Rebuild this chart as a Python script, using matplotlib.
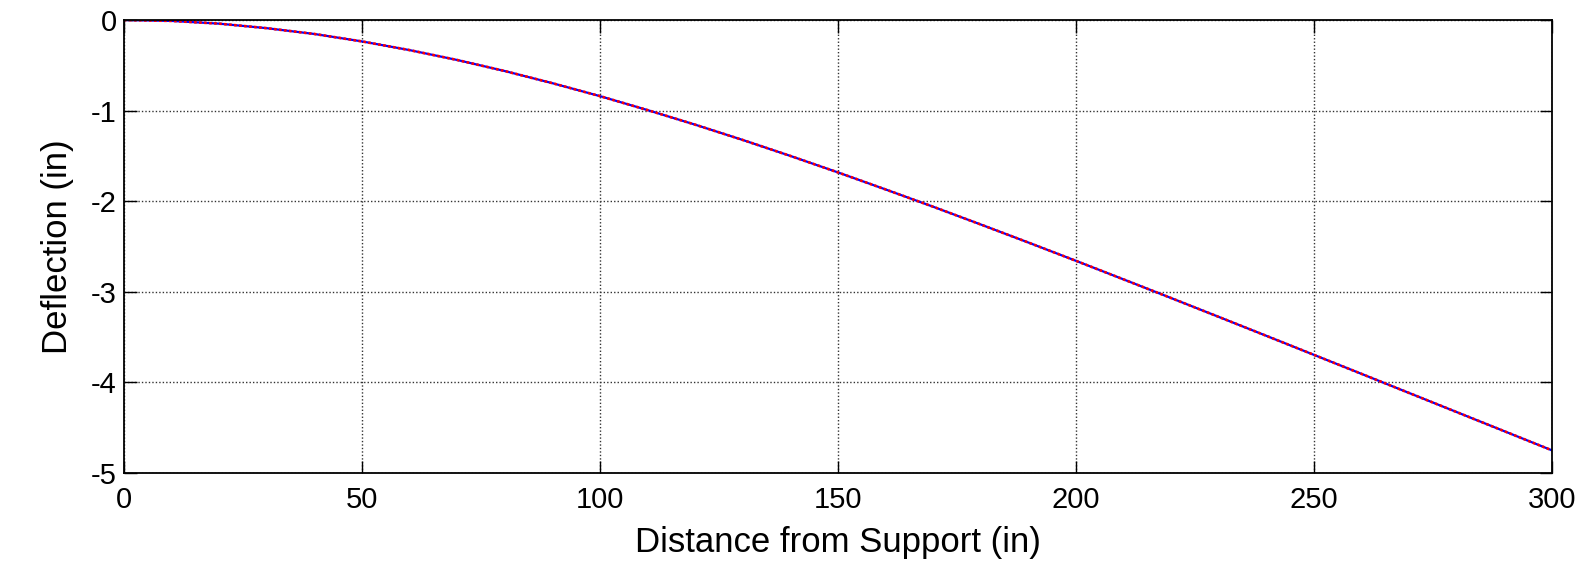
import matplotlib
matplotlib.use('Agg')
import matplotlib.pyplot as plt

# deflection, every 10 in
distance = [0, 10, 20, 30, 40, 50, 60, 70, 80, 90, 100, 110, 120, 130, 140, 150,
            160, 170, 180, 190, 200, 210, 220, 230, 240, 250, 260, 270, 280, 290, 300]
deflection = [0.0, -0.01, -0.04, -0.09, -0.154, -0.236, -0.332, -0.441, -0.563, -0.697,
              -0.84, -0.994, -1.155, -1.324, -1.50, -1.682, -1.87, -2.061, -2.257, -2.456,
              -2.658, -2.863, -3.069, -3.277, -3.486, -3.696, -3.906, -4.117, -4.328,
              -4.539, -4.75]
xticks = [0, 50, 100, 150, 200, 250, 300]
yticks = [0, -1, -2, -3, -4, -5]

plt.rcParams['font.family'] = ['Liberation Sans', 'DejaVu Sans']
plt.rcParams['axes.unicode_minus'] = False

fig = plt.figure(figsize=(15.93, 5.64), dpi=100)
ax = fig.add_axes([0.0778, 0.1613, 0.8965, 0.8032])

ax.plot(distance, deflection, color='blue', lw=1.6)
ax.plot(distance, deflection, color='red', lw=1.9, ls=(0, (1, 0.9)))

ax.set_xlim(0, 300)
ax.set_ylim(-5, 0)
ax.set_xticks(xticks)
ax.set_yticks(yticks)
ax.grid(True, color='#333333', ls=(0, (1, 1.5)), lw=1.0)
ax.tick_params(direction='in', length=9, width=1, top=True, right=True,
               labelsize=21, pad=5)
ax.tick_params(axis='x', pad=9)
for s in ax.spines.values():
    s.set_linewidth(1.3)

ax.set_xlabel('Distance from Support (in)', fontsize=25, labelpad=9)
ax.set_ylabel('Deflection (in)', fontsize=25, labelpad=12)

fig.savefig('out.png', dpi=100)
